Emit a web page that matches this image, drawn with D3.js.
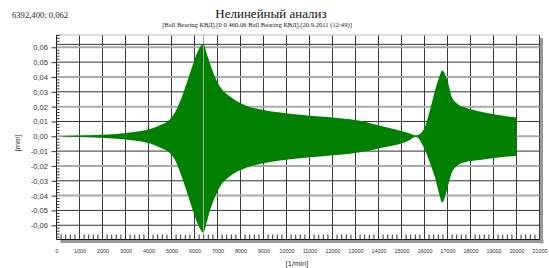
<!DOCTYPE html>
<html><head><meta charset="utf-8">
<script src="https://cdnjs.cloudflare.com/ajax/libs/d3/7.8.5/d3.min.js"></script>
<style>html,body{margin:0;padding:0;background:#fff;}svg{display:block;}</style>
</head><body>
<script>
// ---- data ----
const titleText = "Нелинейный анализ";
const subtitleText = "[Ball Bearing КВД].[0 0 460.06 Ball Bearing КВД].[20.9.2011 (12:49)]";
const cursorText = "6392,400; 0,062";
const cursorX = 6392.4, cursorY = 0.062;
// envelope of the response: speed [1/min], upper and lower amplitude [mm]
const speed = [250, 1000, 1900, 2600, 3200, 3700, 4100, 4500, 4900, 5150, 5370, 5660, 5950, 6165, 6392, 6530, 6674, 6891, 7109, 7543, 8270, 8991, 9717, 10590, 11460, 12330, 13200, 14070, 14790, 15300, 15630, 15950, 16240, 16460, 16640, 16770, 17030, 17180, 17400, 17830, 18410, 19140, 20000];
const upper = [0.0002, 0.0005, 0.001, 0.0016, 0.0025, 0.0035, 0.005, 0.0075, 0.011, 0.016, 0.0234, 0.0358, 0.0492, 0.058, 0.0622, 0.056, 0.049, 0.040, 0.0335, 0.0268, 0.0205, 0.0178, 0.016, 0.0145, 0.0133, 0.0122, 0.0105, 0.0071, 0.0044, 0.0022, 0.0005, 0.004, 0.0178, 0.031, 0.040, 0.0443, 0.0358, 0.0268, 0.0223, 0.019, 0.0167, 0.0145, 0.0126];
const lower = [-0.0002, -0.0005, -0.001, -0.0016, -0.0025, -0.0035, -0.005, -0.0075, -0.011, -0.016, -0.024, -0.037, -0.051, -0.060, -0.065, -0.058, -0.050, -0.041, -0.034, -0.027, -0.021, -0.0182, -0.0163, -0.0148, -0.0136, -0.0125, -0.0108, -0.008, -0.0057, -0.003, -0.0003, -0.0069, -0.018, -0.028, -0.039, -0.0447, -0.033, -0.025, -0.020, -0.0172, -0.016, -0.0145, -0.0131];
const xTicks = d3.range(0, 21001, 1000);
const yTicks = [0.06, 0.05, 0.04, 0.03, 0.02, 0.01, 0.00, -0.01, -0.02, -0.03, -0.04, -0.05, -0.06];
const xLabel = "[1/min]";
const yLabel = "[mm]";

// ---- layout ----
const W = 549, H = 268;
const L = 56.5, R = 539.5, T = 35, B = 239.5;
const svg = d3.select("body").append("svg").attr("width", W).attr("height", H);
const x = d3.scaleLinear().domain([0, 21000]).range([L, R]);
const y = d3.scaleLinear().domain([-0.0696, 0.0683]).range([B, T]);

// titles
svg.append("text").attr("x", 12).attr("y", 18).attr("font-family", "Liberation Serif").attr("font-size", 8.6).attr("fill", "#222").text(cursorText);
svg.append("text").attr("x", 271).attr("y", 18).attr("text-anchor", "middle").attr("font-family", "Liberation Serif").attr("font-size", 13).attr("fill", "#111").text(titleText);
svg.append("text").attr("x", 257).attr("y", 27).attr("text-anchor", "middle").attr("font-family", "Liberation Serif").attr("font-size", 6.6).attr("fill", "#222").text(subtitleText);

// shadow
svg.append("rect").attr("x", R).attr("y", T + 3).attr("width", 3.5).attr("height", B - T + 1).attr("fill", "#999");
svg.append("rect").attr("x", L + 4).attr("y", B).attr("width", R - L).attr("height", 3.5).attr("fill", "#999");

// grid
const g = svg.append("g");
g.selectAll("line.gv").data(xTicks.filter(d => d > 0)).join("line")
  .attr("x1", d => x(d) + 0.0).attr("x2", d => x(d)).attr("y1", T).attr("y2", B)
  .attr("stroke", "#3a3a3a").attr("stroke-width", 1);
g.selectAll("line.gh").data(yTicks).join("line")
  .attr("x1", L).attr("x2", R).attr("y1", d => y(d)).attr("y2", d => y(d))
  .attr("stroke", d => (Math.round(d * 100) % 2 === 0 && Math.abs(d) < 0.059 || Math.abs(d - 0.06) < 1e-6) ? "#aaa" : "#333")
  .attr("stroke-width", d => (Math.round(d * 100) % 2 === 0 && Math.abs(d) < 0.059 || Math.abs(d - 0.06) < 1e-6) ? 2 : 1);

// envelope area
const area = d3.area().x((d, i) => x(speed[i])).y0((d, i) => y(lower[i])).y1((d, i) => y(upper[i])).curve(d3.curveMonotoneX);
svg.append("path").datum(speed).attr("d", area).attr("fill", "#008000");

// cursor lines
svg.append("line").attr("x1", x(cursorX)).attr("x2", x(cursorX)).attr("y1", T).attr("y2", B - 6).attr("stroke", "#aaa").attr("stroke-width", 1);
svg.append("line").attr("x1", L + 3).attr("x2", R).attr("y1", y(cursorY)).attr("y2", y(cursorY)).attr("stroke", "#333").attr("stroke-width", 1);

// frame
svg.append("line").attr("x1", L).attr("x2", R).attr("y1", T).attr("y2", T).attr("stroke", "#bbb");
svg.append("line").attr("x1", L).attr("x2", L).attr("y1", T).attr("y2", B).attr("stroke", "#222");
svg.append("line").attr("x1", L).attr("x2", R).attr("y1", B).attr("y2", B).attr("stroke", "#111");

// minor ticks
const xMinor = d3.range(0, 21000, 200).filter(d => d % 1000 !== 0);
svg.selectAll("line.xm").data(xMinor).join("line")
  .attr("x1", d => x(d)).attr("x2", d => x(d)).attr("y1", B - 5).attr("y2", B).attr("stroke", "#333");
const yMinor = d3.range(-68, 69, 2).map(d => d / 1000).filter(d => Math.round(d * 1000) % 10 !== 0);
svg.selectAll("line.ym").data(yMinor).join("line")
  .attr("x1", L).attr("x2", L + 3).attr("y1", d => y(d)).attr("y2", d => y(d)).attr("stroke", "#333");

// axes labels
const yAxis = d3.axisLeft(y).tickValues(yTicks).tickSize(5).tickFormat(d => d3.format(".2f")(d).replace(".", ",").replace("−", "-"));
const ya = svg.append("g").attr("transform", `translate(${L},0)`).call(yAxis);
ya.select(".domain").remove();
ya.selectAll("line").attr("stroke", "#333");
ya.selectAll("text").attr("font-family", "Liberation Sans").attr("font-size", 7.6).attr("fill", "#333").attr("x", -8.5);

const xAxis = d3.axisBottom(x).tickValues(xTicks).tickSize(0).tickFormat(d3.format("d"));
const xa = svg.append("g").attr("transform", `translate(0,${B})`).call(xAxis);
xa.select(".domain").remove();
xa.selectAll("text").attr("font-family", "Liberation Sans").attr("font-size", 5.4).attr("fill", "#333").attr("y", 9.5).attr("dy", "0.71em");

svg.append("text").attr("x", 297).attr("y", 265.5).attr("text-anchor", "middle").attr("font-family", "Liberation Sans").attr("font-size", 7.6).attr("fill", "#333").text(xLabel);
svg.append("text").attr("transform", "translate(20,143) rotate(-90)").attr("text-anchor", "middle").attr("font-family", "Liberation Sans").attr("font-size", 7.6).attr("fill", "#333").text(yLabel);
</script>
</body></html>
